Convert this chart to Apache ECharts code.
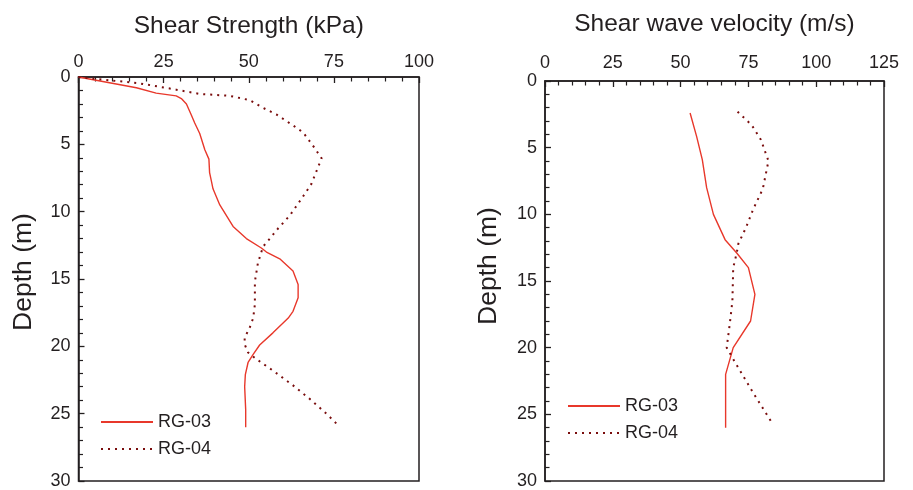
<!DOCTYPE html>
<html>
<head>
<meta charset="utf-8">
<script src="https://cdn.jsdelivr.net/npm/echarts@6/dist/echarts.min.js"></script>
<style>
html,body{margin:0;padding:0;background:#fff;}
#chart{width:913px;height:490px;}
</style>
</head>
<body>
<div id="chart"></div>
<script>
// Left panel: Shear Strength (kPa) vs Depth (m)
var ssRG03Depth = [0, 0.8, 1.2, 1.4, 1.6, 2.0, 2.8, 3.4, 4.2, 5.4, 6.1, 7.1, 7.7, 8.3, 9.5, 11.1, 12.0, 12.7, 13.0, 13.5, 14.4, 15.4, 16.4, 17.4, 17.9, 19.0, 19.9, 20.6, 21.2, 22.1, 23.0, 24.7, 26.0];
var ssRG03Value = [0, 17.0, 22.8, 28.7, 30.2, 31.7, 33.1, 34.1, 35.6, 37.1, 38.3, 38.5, 39.0, 39.5, 41.5, 45.4, 49.3, 53.7, 55.2, 59.1, 63.0, 64.5, 64.5, 63.0, 61.6, 57.1, 53.2, 51.3, 49.8, 49.0, 48.8, 49.1, 49.1];
var ssRG04Depth = [0, 0.15, 0.27, 0.44, 0.64, 0.94, 1.26, 1.35, 1.4, 1.72, 2.29, 2.78, 3.59, 4.13, 5.11, 6.04, 7.94, 9.04, 10.27, 11.25, 12.0, 12.6, 13.8, 15.2, 16.9, 17.9, 18.6, 19.35, 19.85, 20.46, 20.96, 21.8, 22.9, 23.9, 25.0, 25.75];
var ssRG04Value = [0, 5.2, 10.1, 17.0, 21.9, 28.7, 35.6, 41.5, 44.4, 50.3, 54.2, 58.1, 63.0, 66.0, 68.9, 71.4, 68.4, 65.5, 62.1, 58.6, 56.2, 54.2, 52.7, 51.8, 51.8, 51.3, 50.3, 48.8, 48.8, 49.8, 52.3, 57.1, 63.0, 67.9, 72.8, 75.8];

// Right panel: Shear wave velocity (m/s) vs Depth (m)
var vsRG03Depth = [2.4, 4.15, 5.9, 8.0, 10.0, 11.9, 12.9, 14.0, 16.0, 18.0, 20.0, 22.0, 26.0];
var vsRG03Value = [53.5, 55.9, 58.0, 59.6, 62.1, 66.4, 70.7, 75.0, 77.4, 75.8, 69.4, 66.6, 66.6];
var vsRG04Depth = [2.3, 3.3, 4.4, 6.0, 8.1, 9.6, 11.0, 12.2, 12.9, 14.0, 16.5, 18.1, 20.0, 21.1, 23.4, 25.8];
var vsRG04Value = [71.0, 76.2, 79.6, 82.4, 80.3, 76.8, 74.1, 71.3, 70.7, 69.4, 69.1, 68.2, 67.0, 70.1, 76.8, 84.2];

var seriesNames = ['RG-03', 'RG-04'];
var xTitles = ['Shear Strength (kPa)', 'Shear wave velocity (m/s)'];
var yTitle = 'Depth (m)';
var xMax = [100, 125];
var xInterval = 25;
var depthMax = 30;
var depthInterval = 5;

function pairs(vals, depths) {
  return vals.map(function (v, i) { return [v, depths[i]]; });
}

var FONT = '"Liberation Sans", Arial, Helvetica, sans-serif';
var AX = '#231f20';
var RED = '#e8382b';
var DARK = '#7a0d0d';

function xAxisCfg(idx, gap, margin) {
  return {
    gridIndex: idx, type: 'value', position: 'top',
    min: 0, max: xMax[idx], interval: xInterval,
    name: xTitles[idx], nameLocation: 'middle', nameGap: gap,
    nameTextStyle: { fontSize: 24.5, color: AX, fontFamily: FONT },
    axisLine: { show: true, onZero: false, lineStyle: { color: AX, width: 1.5 } },
    axisTick: { show: true, inside: true, length: 6, lineStyle: { color: AX, width: 1.3 } },
    minorTick: { show: true, splitNumber: 5, length: 4.5, lineStyle: { color: AX, width: 1.2 } },
    axisLabel: { fontSize: 18, color: AX, fontFamily: FONT, margin: margin },
    splitLine: { show: false }
  };
}
function yAxisCfg(idx, gap, shift) {
  return {
    gridIndex: idx, type: 'value', inverse: true,
    min: 0, max: depthMax, interval: depthInterval,
    name: yTitle, nameLocation: 'middle', nameGap: gap, nameRotate: 90,
    nameTextStyle: { fontSize: 26.5, color: AX, fontFamily: FONT, padding: [0, 0, 0, shift] },
    axisLine: { show: true, onZero: false, lineStyle: { color: AX, width: 1.5 } },
    axisTick: { show: true, inside: true, length: 6, lineStyle: { color: AX, width: 1.3 } },
    minorTick: { show: true, splitNumber: 5, length: 4.5, lineStyle: { color: AX, width: 1.2 } },
    axisLabel: { fontSize: 18, color: AX, fontFamily: FONT, margin: 8 },
    splitLine: { show: false }
  };
}
function solid(name, x, data) {
  return { name: name, type: 'line', xAxisIndex: x, yAxisIndex: x, data: data,
    symbol: 'none', smooth: false, animation: false, z: 3,
    lineStyle: { color: RED, width: 1.4 }, itemStyle: { color: RED } };
}
function dotted(name, x, data) {
  return { name: name, type: 'line', xAxisIndex: x, yAxisIndex: x, data: data,
    symbol: 'none', smooth: false, animation: false, z: 3,
    lineStyle: { color: DARK, width: 2, type: [2, 5] }, itemStyle: { color: DARK } };
}
function legendCfg(left, top) {
  return {
    left: left, top: top, orient: 'vertical', data: seriesNames,
    itemWidth: 52, itemHeight: 20, itemGap: 7, selectedMode: false,
    itemStyle: { opacity: 0 },
    textStyle: { fontSize: 18, color: AX, fontFamily: FONT, lineHeight: 20 }
  };
}

var chart = echarts.init(document.getElementById('chart'), null, { renderer: 'canvas' });
chart.setOption({
  backgroundColor: '#ffffff',
  animation: false,
  textStyle: { fontFamily: FONT },
  grid: [
    { left: 78.5, top: 77, width: 340.5, height: 407, show: true, borderColor: AX, borderWidth: 1.5, containLabel: false, z: 0 },
    { left: 545, top: 81, width: 339, height: 403, show: true, borderColor: AX, borderWidth: 1.5, containLabel: false, z: 0 }
  ],
  legend: [legendCfg(95, 407), legendCfg(562, 391)],
  xAxis: [xAxisCfg(0, 38, 6), xAxisCfg(1, 44, 9)],
  yAxis: [yAxisCfg(0, 41, 14), yAxisCfg(1, 43, 30)],
  series: [
    solid(seriesNames[0], 0, pairs(ssRG03Value, ssRG03Depth)),
    dotted(seriesNames[1], 0, pairs(ssRG04Value, ssRG04Depth)),
    solid(seriesNames[0], 1, pairs(vsRG03Value, vsRG03Depth)),
    dotted(seriesNames[1], 1, pairs(vsRG04Value, vsRG04Depth))
  ]
});
</script>
</body>
</html>
